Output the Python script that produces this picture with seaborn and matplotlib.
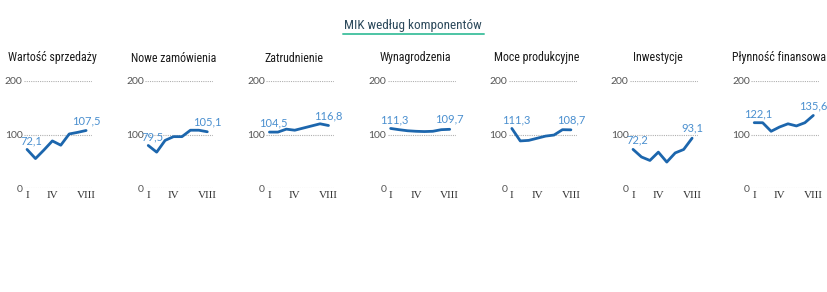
import matplotlib
matplotlib.use("Agg")
import matplotlib.pyplot as plt
import seaborn as sns
import pandas as pd
from matplotlib.lines import Line2D

sns.set_theme(style="white")
plt.rcParams['font.family'] = ['Roboto Condensed', 'Open Sans Condensed', 'Roboto', 'DejaVu Sans']

title = "MIK według komponentów"
panels = ["Wartość sprzedaży", "Nowe zamówienia", "Zatrudnienie", "Wynagrodzenia",
          "Moce produkcyjne", "Inwestycje", "Płynność finansowa"]
months = ["I", "II", "III", "IV", "V", "VI", "VII", "VIII"]
shown_ticks = ["I", "IV", "VIII"]

sprzedaz = [72.1, 55, 71, 88, 80, 101, 104, 107.5]
zamowienia = [79.5, 67, 89, 96, 96, 108, 108, 105.1]
zatrudnienie = [104.5, 104.5, 110, 108, 112, 116, 120, 116.8]
wynagrodzenia = [111.3, 109, 107, 106, 105.5, 106, 109, 109.7]
moce = [111.3, 88, 89, 93, 97, 99, 109, 108.7]
inwestycje = [72.2, 58, 51.5, 67, 48.5, 65.6, 72, 93.1]
plynnosc = [122.1, 122, 106, 114, 120, 116, 122, 135.6]
series = [sprzedaz, zamowienia, zatrudnienie, wynagrodzenia, moce, inwestycje, plynnosc]
yticks = [0, 100, 200]

W, H = 827, 292
fig = plt.figure(figsize=(W / 100, H / 100), dpi=100)

line_color = "#1c66ad"
label_color = "#4a8fcf"

fig.text(413 / W, 1 - 26 / H, title, ha="center", va="center", fontsize=9.5,
         color="#2d4a5c", fontstretch="condensed", fontweight="normal")
fig.add_artist(Line2D([343 / W, 484 / W], [1 - 34 / H, 1 - 34 / H],
                      transform=fig.transFigure, color="#4cc4a4", lw=1.4))

for i, (name, vals) in enumerate(zip(panels, series)):
    left = 24 + i * 121.2
    ax = fig.add_axes([left / W, (H - 188) / H, 68 / W, (188 - 81) / H])
    df = pd.DataFrame({"x": range(len(months)), "v": vals})
    sns.lineplot(data=df, x="x", y="v", ax=ax, color=line_color, lw=2.0)
    ax.set_xlim(-0.36, 7.7)
    ax.set_ylim(0, 200)
    for yv in yticks:
        ax.axhline(yv, color="#b0b0b0", lw=0.8, ls=(0, (1, 1)), zorder=0)
    ax.set_yticks(yticks)
    ax.set_yticklabels([str(t) for t in yticks], fontsize=7.5, color="#555555",
                       family=["Lato", "DejaVu Sans"])
    ax.set_xticks([months.index(m) for m in shown_ticks])
    ax.set_xticklabels(shown_ticks, fontsize=8, color="#333333",
                       family=["Liberation Serif", "DejaVu Serif"])
    ax.tick_params(axis="both", length=0, pad=1)
    ax.tick_params(axis="x", pad=2)
    ax.set_xlabel("")
    ax.set_ylabel("")
    for s in ax.spines.values():
        s.set_visible(False)
    ax.set_facecolor("none")
    ax.text((34 - 6) / 68, (188 - 58) / (188 - 81), name, transform=ax.transAxes,
            fontsize=8.6, color="#1a1a1a", ha="center", va="center",
            fontstretch="condensed", fontweight="normal")
    fmt = lambda v: f"{v:.1f}".replace(".", ",")
    ax.annotate(fmt(vals[0]), (0, vals[0]), xytext=(4, 9), textcoords="offset pixels",
                ha="center", va="center", fontsize=8, color=label_color,
                family=["Lato", "DejaVu Sans"], annotation_clip=False)
    ax.annotate(fmt(vals[-1]), (7, vals[-1]), xytext=(0, 10), textcoords="offset pixels",
                ha="center", va="center", fontsize=8, color=label_color,
                family=["Lato", "DejaVu Sans"], annotation_clip=False)

fig.savefig("out.png", dpi=100, facecolor="white")
